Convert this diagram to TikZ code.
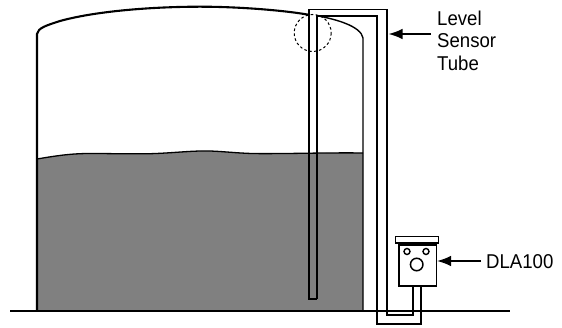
\documentclass[tikz,border=0pt]{standalone}
\usepackage{graphicx}
\usepackage{fontspec}
\setmainfont{Liberation Sans}
\usetikzlibrary{arrows.meta}
\newcommand{\narrowtext}[1]{\scalebox{.93}[1]{#1}}
\tikzset{
  heavy/.style={line width=2.1pt,line join=miter},
  tube/.style={line width=1.9pt,line join=miter},
  unit box/.style={line width=1.9pt,line join=miter},
  pointer/.style={line width=1.6pt,-{Latex[length=14pt,width=10.5pt]}},
  lab/.style={font=\fontsize{20}{20}\selectfont,inner sep=0pt,anchor=west}
}
\begin{document}
\begin{tikzpicture}[x=1pt,y=-1pt]
\useasboundingbox (0,0) rectangle (562,328);
% liquid
\fill[black!50] (37,159) .. controls (55,156) and (70,153.5) .. (90,153.5)
  .. controls (110,153.5) and (125,154) .. (145,153.8)
  .. controls (170,153.5) and (190,150.5) .. (210,151)
  .. controls (225,151.5) and (240,153.5) .. (258,153.6)
  .. controls (290,153.8) and (330,152.5) .. (363,153) -- (363,310.5) -- (37,310.5) -- cycle;
\draw[line width=1.3pt] (37,159) .. controls (55,156) and (70,153.5) .. (90,153.5)
  .. controls (110,153.5) and (125,154) .. (145,153.8)
  .. controls (170,153.5) and (190,150.5) .. (210,151)
  .. controls (225,151.5) and (240,153.5) .. (258,153.6)
  .. controls (290,153.8) and (330,152.5) .. (363,153);
% tank
\draw[heavy] (37,310.5) -- (37,34) .. controls (38,28) and (46,25.5) .. (60,21)
  .. controls (100,10) and (160,6.7) .. (200,6.7)
  .. controls (240,6.7) and (285,10.5) .. (309,14.8);
\draw[line width=1.4pt] (316.7,15.7) .. controls (335,19) and (361,26) .. (363,38) -- (363,310.5);
% level circle
\draw[line width=1pt,dash pattern=on 2.6pt off 2.4pt] (312.7,33) circle (18.5);
% tube
\draw[tube] (316.7,299) -- (309,299) -- (309,9.5) -- (386.7,9.5) -- (386.7,314.7) -- (413,314.7) -- (413,285);
\draw[tube] (316.7,299) -- (316.7,15.7) -- (376.7,15.7) -- (376.7,324) -- (421,324) -- (421,285);
% ground
\draw[heavy] (10,310.7) -- (510,310.7);
% DLA100 unit
\node[draw,unit box,minimum width=37.5pt,minimum height=41pt,inner sep=0pt,anchor=north west] (unit) at (398,244) {};
\node[draw,unit box,minimum width=43pt,minimum height=6.5pt,inner sep=0pt,anchor=south] (lid) at (417,244) {};
\node[draw,line width=1.4pt,circle,minimum size=6pt,inner sep=0pt] (ledA) at (407,251.5) {};
\node[draw,line width=1.4pt,circle,minimum size=6pt,inner sep=0pt] (ledB) at (426,251.5) {};
\node[draw,line width=1.5pt,circle,minimum size=12.5pt,inner sep=0pt] (knob) at (416.7,264.5) {};
% labels
\node[lab] (dla) at (486,261.5) {\narrowtext{DLA100}};
\node[lab] (lev) at (437,18) {\narrowtext{Level}};
\node[lab] (sen) at (437,41) {\narrowtext{Sensor}};
\node[lab] (tub) at (437,63.5) {\narrowtext{Tube}};
\coordinate (levtail) at (431,34);
\coordinate (levhead) at (388.5,34);
\coordinate (dlatail) at (481,261);
\coordinate (dlahead) at (437,261);
\draw[pointer] (levtail) -- (levhead);
\draw[pointer] (dlatail) -- (dlahead);
\end{tikzpicture}
\end{document}
